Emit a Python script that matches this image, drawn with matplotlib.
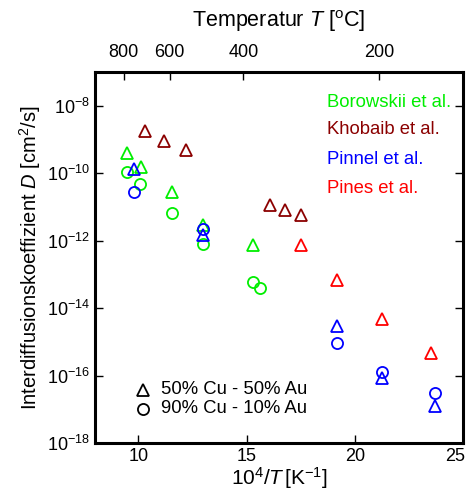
import numpy as np
import matplotlib
matplotlib.use("Agg")
import matplotlib.pyplot as plt
import matplotlib.transforms as mtrans

plt.rcParams['font.family'] = ['Liberation Sans', 'DejaVu Sans']
plt.rcParams['mathtext.fontset'] = 'custom'
plt.rcParams['mathtext.rm'] = 'Liberation Sans'
plt.rcParams['mathtext.it'] = 'Liberation Sans:italic'

# data: x = 10^4/T [1/K], y = log10(D [cm^2/s])
boro_tri_x = [9.47, 10.11, 11.58, 13.01, 15.28]
boro_tri_y = [-9.41, -9.82, -10.56, -11.53, -12.12]
boro_cir_x = [9.47, 10.10, 11.56, 13.01, 15.28, 15.61]
boro_cir_y = [-9.97, -10.33, -11.17, -12.10, -13.23, -13.40]

khob_tri_x = [10.31, 11.18, 12.19, 16.10, 16.79, 17.50]
khob_tri_y = [-8.74, -9.04, -9.30, -10.94, -11.08, -11.24]

pinn_tri_x = [9.80, 12.99, 19.18, 21.24, 23.72]
pinn_tri_y = [-9.87, -11.83, -14.52, -16.07, -16.90]
pinn_cir_x = [9.80, 12.99, 19.18, 21.24, 23.72]
pinn_cir_y = [-10.56, -11.66, -15.04, -15.89, -16.51]

pines_tri_x = [17.50, 19.18, 21.24, 23.54]
pines_tri_y = [-12.12, -13.18, -14.33, -15.33]

temps_c = [800, 600, 400, 200]

green = '#00ee00'
brown = '#8b0000'
blue = '#0000ff'
red = '#ff0000'

fig = plt.figure(figsize=(4.71, 4.97), dpi=100)
ax = fig.add_axes([0.2017, 0.1087, 0.7813, 0.7463])

mk = dict(ms=8, mew=1.3, fillstyle='none', ls='none')
ax.plot(boro_tri_x, 10.0**np.array(boro_tri_y), '^', color=green, **mk)
ax.plot(boro_cir_x, 10.0**np.array(boro_cir_y), 'o', color=green, **mk)
ax.plot(khob_tri_x, 10.0**np.array(khob_tri_y), '^', color=brown, **mk)
ax.plot(pinn_tri_x, 10.0**np.array(pinn_tri_y), '^', color=blue, **mk)
ax.plot(pinn_cir_x, 10.0**np.array(pinn_cir_y), 'o', color=blue, **mk)
ax.plot(pines_tri_x, 10.0**np.array(pines_tri_y), '^', color=red, **mk)

ax.set_yscale('log')
ax.set_xlim(8, 25)
ax.set_ylim(1e-18, 1e-7)
ax.set_xticks([10, 15, 20, 25])
ax.set_yticks([1e-18, 1e-16, 1e-14, 1e-12, 1e-10, 1e-8])
ax.set_yticklabels([r'$\mathregular{10^{-%d}}$' % k for k in [18, 16, 14, 12, 10, 8]])
ax.minorticks_off()
ax.tick_params(direction='in', length=6, width=1, labelsize=13, right=True)
for s in ax.spines.values():
    s.set_linewidth(2.2)

# last x label sits at the figure edge, nudge it left
lab25 = ax.get_xticklabels()[-1]
lab25.set_transform(lab25.get_transform() + mtrans.ScaledTranslation(-8 / 100, 0, fig.dpi_scale_trans))

ax.set_xlabel(r'$\mathregular{10^4/}\mathit{T}\,\mathregular{[K^{-1}]}$', fontsize=15, labelpad=0)
ax.set_ylabel(r'Interdiffusionskoeffizient $\mathit{D}$ $\mathregular{[cm^2/s]}$', fontsize=14.5, labelpad=3)

# top axis: temperature in deg C
top = ax.twiny()
top.set_xlim(ax.get_xlim())
top.set_xticks([1e4 / (t + 273.15) for t in temps_c])
top.set_xticklabels([str(t) for t in temps_c])
top.minorticks_off()
top.tick_params(direction='in', length=6, width=1, labelsize=13, pad=8)
top.set_xlabel(r'Temperatur $\mathit{T}$ $\mathregular{[^{o}C]}$', fontsize=15.5, labelpad=12)

# source labels
ax.text(0.63, 0.919, 'Borowskii et al.', color=green, fontsize=13.3, transform=ax.transAxes, va='center')
ax.text(0.63, 0.844, 'Khobaib et al.', color=brown, fontsize=13.3, transform=ax.transAxes, va='center')
ax.text(0.63, 0.763, 'Pinnel et al.', color=blue, fontsize=13.3, transform=ax.transAxes, va='center')
ax.text(0.63, 0.685, 'Pines et al.', color=red, fontsize=13.3, transform=ax.transAxes, va='center')

# composition legend
ax.plot([0.13], [0.143], '^', color='k', transform=ax.transAxes, **mk)
ax.plot([0.13], [0.092], 'o', color='k', transform=ax.transAxes, **mk)
ax.text(0.18, 0.143, '50% Cu - 50% Au', fontsize=13.3, transform=ax.transAxes, va='center')
ax.text(0.18, 0.092, '90% Cu - 10% Au', fontsize=13.3, transform=ax.transAxes, va='center')

fig.savefig('out.png', dpi=100)
